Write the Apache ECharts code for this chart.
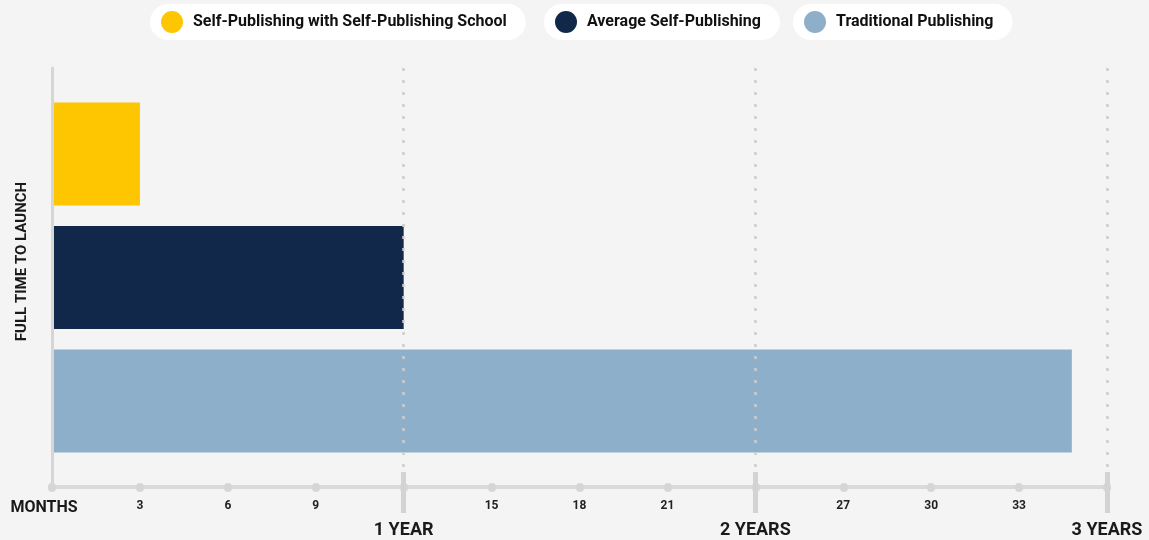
<!DOCTYPE html>
<html>
<head>
<meta charset="utf-8">
<script src="https://cdn.jsdelivr.net/npm/echarts@6/dist/echarts.min.js"></script>
<style>
html,body{margin:0;padding:0;background:#f4f4f4;}
#chart{width:1149px;height:540px;}
</style>
</head>
<body>
<div id="chart"></div>
<script>
// ---- data ----
var categories = ['FULL TIME TO LAUNCH'];
var seriesNames = ['Self-Publishing with Self-Publishing School', 'Average Self-Publishing', 'Traditional Publishing'];
var monthsToLaunch = [3, 12, 34.8];
var seriesColors = ['#fec600', '#11284a', '#8eafca'];
var axisStartLabel = 'MONTHS';
var yearValues = [12, 24, 36];
var yearLabels = ['1 YEAR', '2 YEARS', '3 YEARS'];
var axisName = 'FULL TIME TO LAUNCH';

var FONT = 'Roboto';
var legendLefts = [150, 544, 793];

var chart = echarts.init(document.getElementById('chart'));

var legends = seriesNames.map(function (n, i) {
  return {
    data: [n],
    left: legendLefts[i],
    top: 4,
    orient: 'horizontal',
    icon: 'circle',
    itemWidth: 22,
    itemHeight: 22,
    backgroundColor: '#ffffff',
    borderRadius: 18,
    padding: [7, 19, 7, 11],
    selectedMode: false,
    textStyle: {
      fontFamily: FONT,
      fontSize: 16,
      fontWeight: 'bold',
      color: '#111',
      padding: [0, 0, 0, 5]
    }
  };
});

var series = seriesNames.map(function (n, i) {
  return {
    name: n,
    type: 'bar',
    data: [monthsToLaunch[i]],
    barWidth: 103,
    barGap: '20%',
    itemStyle: { color: seriesColors[i] },
    z: 2
  };
});

chart.setOption({
  backgroundColor: '#f4f4f4',
  animation: false,
  legend: legends,
  grid: { left: 52, right: 42, top: 68, bottom: 53, containLabel: false },
  xAxis: [
    {
      type: 'value',
      min: 0,
      max: 36,
      interval: 3,
      position: 'bottom',
      axisLine: { show: true, lineStyle: { color: '#dadada', width: 4 } },
      axisTick: { show: true, length: 1, lineStyle: { color: '#d6d6d6', width: 8, cap: 'round' } },
      splitLine: { show: false },
      axisLabel: {
        margin: 13,
        formatter: function (v) {
          if (v === 0) return '{m|' + axisStartLabel + '}';
          var yi = yearValues.indexOf(v);
          if (yi >= 0) return '{y|' + yearLabels[yi] + '}';
          return '{n|' + v + '}';
        },
        rich: {
          n: { fontFamily: FONT, fontSize: 12, fontWeight: 'bold', color: '#222' },
          m: { fontFamily: FONT, fontSize: 16, fontWeight: 'bold', color: '#1a1a1a', padding: [0, 16, 0, 0] },
          y: { fontFamily: FONT, fontSize: 18, fontWeight: 'bold', color: '#1a1a1a', padding: [21, 0, 0, 0] }
        }
      }
    },
    {
      type: 'value',
      min: 0,
      max: 36,
      interval: 12,
      position: 'bottom',
      offset: 26,
      z: 5,
      axisLine: { show: false },
      axisLabel: { show: false },
      axisTick: { show: true, inside: true, length: 41, customValues: yearValues, lineStyle: { color: '#d3d3d3', width: 5 } },
      splitLine: { show: true, lineStyle: { color: '#cdcdcd', width: 2.5, type: [3, 9] } }
    }
  ],
  yAxis: {
    type: 'category',
    data: categories,
    inverse: true,
    z: 3,
    axisLine: { show: true, lineStyle: { color: '#d6d6d6', width: 3 } },
    axisTick: { show: false },
    axisLabel: { show: false },
    splitLine: { show: false },
    name: axisName,
    nameLocation: 'middle',
    nameRotate: 90,
    nameGap: 22,
    nameTextStyle: {
      fontFamily: FONT,
      fontSize: 15,
      fontWeight: 'bold',
      color: '#1a1a1a',
      padding: [0, 0, 0, 32]
    }
  },
  series: series
});
</script>
</body>
</html>
